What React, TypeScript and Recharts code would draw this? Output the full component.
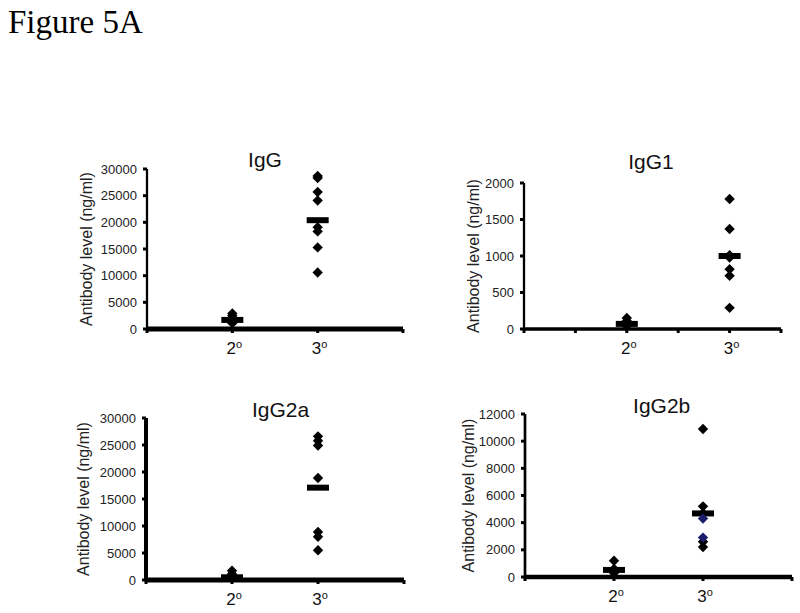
import React from "react";
import { ScatterChart, Scatter, XAxis, YAxis } from "recharts";

// ---- data ----
const iggSecondary = [2900, 2500, 2000, 1600, 1300, 1100];
const iggTertiary = [28700, 28300, 25700, 24100, 19100, 18300, 15300, 10600];
const iggMedians = [1700, 20400];

const igg1Secondary = [150, 110, 80, 60, 40];
const igg1Tertiary = [1780, 1370, 1010, 980, 820, 730, 290];
const igg1Medians = [70, 1000];

const igg2aSecondary = [1700, 1100, 700, 400, 200];
const igg2aTertiary = [26600, 25800, 24900, 18900, 8900, 8000, 5500];
const igg2aMedians = [500, 17100];

const igg2bSecondary = [1200, 600, 450, 300];
const igg2bTertiary = [10900, 5200, 4700, 2600, 2200];
const igg2bTertiaryBlue = [4300, 2900];
const igg2bMedians = [520, 4680];

const ticks30k = [0, 5000, 10000, 15000, 20000, 25000, 30000];
const ticks2k = [0, 500, 1000, 1500, 2000];
const ticks12k = [0, 2000, 4000, 6000, 8000, 10000, 12000];

const groupLabels = ["2", "3"];
const yLabelText = "Antibody level (ng/ml)";

const FONT = "'Liberation Sans', Arial, sans-serif";

const Diamond = (color: string) => (p: any) => {
  const { cx, cy } = p;
  const r = 5.2;
  return (
    <polygon
      points={`${cx},${cy - r} ${cx + r},${cy} ${cx},${cy + r} ${cx - r},${cy}`}
      fill={color}
    />
  );
};

const MedianBar = (p: any) => {
  const { cx, cy } = p;
  return <rect x={cx - 11} y={cy - 3} width={22} height={6} fill="#000" />;
};

type PanelProps = {
  left: number;
  top: number;
  width: number;
  height: number;
  margin: { top: number; right: number; bottom: number; left: number };
  yAxisWidth: number;
  yMax: number;
  yTicks: number[];
  xMax: number;
  xPos: number[];
  secondary: number[];
  tertiary: number[];
  tertiaryBlue?: number[];
  medians: number[];
  labelX: number;
  xStroke: number;
  yStroke: number;
};

function Panel(pp: PanelProps) {
  const xTicks = Array.from({ length: pp.xMax + 1 }, (_, i) => i);
  const sec = pp.secondary.map((v) => ({ x: pp.xPos[0], y: v }));
  const ter = pp.tertiary.map((v) => ({ x: pp.xPos[1], y: v }));
  const terBlue = (pp.tertiaryBlue || []).map((v) => ({ x: pp.xPos[1], y: v }));
  const med = pp.medians.map((v, i) => ({ x: pp.xPos[i], y: v }));

  const XTick = (props: any) => {
    const { x, y, payload } = props;
    const idx = pp.xPos.indexOf(payload.value);
    if (idx < 0) return <g />;
    return (
      <text x={x + 2} y={y + 19} textAnchor="middle" fontFamily={FONT} fontSize={17} fill="#111">
        <tspan>{groupLabels[idx]}</tspan>
        <tspan fontSize={11} dy={-6}>o</tspan>
      </text>
    );
  };

  const YLabel = (props: any) => {
    const vb = props.viewBox || { x: 0, y: 0, width: 0, height: 0 };
    const cx = pp.labelX;
    const cy = vb.y + vb.height / 2;
    return (
      <text
        x={cx}
        y={cy}
        transform={`rotate(-90, ${cx}, ${cy})`}
        textAnchor="middle"
        dominantBaseline="central"
        fontFamily={FONT}
        fontSize={16}
        fill="#222"
      >
        {yLabelText}
      </text>
    );
  };

  return (
    <div style={{ position: "absolute", left: pp.left, top: pp.top }}>
      <ScatterChart width={pp.width} height={pp.height} margin={pp.margin}>
        <XAxis
          type="number"
          dataKey="x"
          domain={[0, pp.xMax]}
          ticks={xTicks}
          interval={0}
          height={30}
          tickSize={4}
          tickMargin={2}
          axisLine={{ stroke: "#000", strokeWidth: pp.xStroke }}
          tickLine={{ stroke: "#000", strokeWidth: 3 }}
          tick={XTick}
          allowDataOverflow
        />
        <YAxis
          type="number"
          dataKey="y"
          domain={[0, pp.yMax]}
          ticks={pp.yTicks}
          interval={0}
          width={pp.yAxisWidth}
          tickSize={4}
          tickMargin={6}
          axisLine={{ stroke: "#000", strokeWidth: pp.yStroke }}
          tickLine={{ stroke: "#000", strokeWidth: 3 }}
          tick={{ fontFamily: FONT, fontSize: 13, fill: "#222" }}
          label={<YLabel />}
          allowDataOverflow
        />
        <Scatter data={med} shape={MedianBar} isAnimationActive={false} />
        <Scatter data={sec} shape={Diamond("#000")} isAnimationActive={false} />
        <Scatter data={ter} shape={Diamond("#000")} isAnimationActive={false} />
        {terBlue.length > 0 && (
          <Scatter data={terBlue} shape={Diamond("#1c1c6b")} isAnimationActive={false} />
        )}
      </ScatterChart>
    </div>
  );
}

export default function App() {
  return (
    <div
      style={{
        position: "absolute",
        left: 0,
        top: 0,
        width: 800,
        height: 613,
        background: "#fff",
        overflow: "hidden",
      }}
    >
      <Panel
        left={40}
        top={150}
        width={380}
        height={220}
        margin={{ top: 19, right: 17, bottom: 11, left: 0 }}
        yAxisWidth={107}
        yMax={30000}
        yTicks={ticks30k}
        xMax={3}
        xPos={[1, 2]}
        secondary={iggSecondary}
        tertiary={iggTertiary}
        medians={iggMedians}
        labelX={46.7}
        xStroke={5}
        yStroke={2.3}
      />
      <Panel
        left={420}
        top={150}
        width={380}
        height={220}
        margin={{ top: 33, right: 19, bottom: 11, left: 0 }}
        yAxisWidth={104}
        yMax={2000}
        yTicks={ticks2k}
        xMax={5}
        xPos={[2, 4]}
        secondary={igg1Secondary}
        tertiary={igg1Tertiary}
        medians={igg1Medians}
        labelX={53}
        xStroke={3.3}
        yStroke={2.3}
      />
      <Panel
        left={40}
        top={390}
        width={380}
        height={223}
        margin={{ top: 28, right: 16, bottom: 3, left: 0 }}
        yAxisWidth={106}
        yMax={30000}
        yTicks={ticks30k}
        xMax={3}
        xPos={[1, 2]}
        secondary={igg2aSecondary}
        tertiary={igg2aTertiary}
        medians={igg2aMedians}
        labelX={43}
        xStroke={5}
        yStroke={4}
      />
      <Panel
        left={420}
        top={390}
        width={380}
        height={223}
        margin={{ top: 24, right: 8, bottom: 6, left: 0 }}
        yAxisWidth={105}
        yMax={12000}
        yTicks={ticks12k}
        xMax={3}
        xPos={[1, 2]}
        secondary={igg2bSecondary}
        tertiary={igg2bTertiary}
        tertiaryBlue={igg2bTertiaryBlue}
        medians={igg2bMedians}
        labelX={48}
        xStroke={4.7}
        yStroke={2.7}
      />
      <svg
        width={800}
        height={613}
        style={{ position: "absolute", left: 0, top: 0, pointerEvents: "none" }}
      >
        <text x={8} y={33} fontFamily="'Liberation Serif', 'Times New Roman', serif" fontSize={33} fill="#000">
          Figure 5A
        </text>
        <text x={265} y={167} textAnchor="middle" fontFamily={FONT} fontSize={21} fill="#111">IgG</text>
        <text x={651} y={169} textAnchor="middle" fontFamily={FONT} fontSize={21} fill="#111">IgG1</text>
        <text x={280.5} y={417} textAnchor="middle" fontFamily={FONT} fontSize={21} fill="#111">IgG2a</text>
        <text x={661.7} y={413} textAnchor="middle" fontFamily={FONT} fontSize={21} fill="#111">IgG2b</text>
      </svg>
    </div>
  );
}
